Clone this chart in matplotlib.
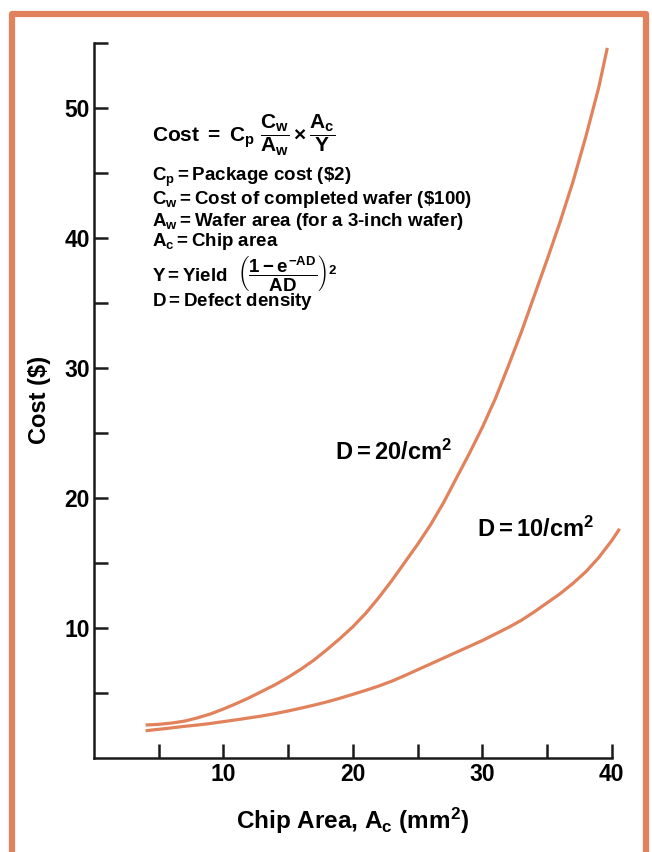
import matplotlib
matplotlib.use("Agg")
import matplotlib.pyplot as plt
from matplotlib.lines import Line2D

plt.rcParams["font.family"] = ["Liberation Sans", "DejaVu Sans"]
plt.rcParams["font.weight"] = "bold"
plt.rcParams["mathtext.fontset"] = "custom"
plt.rcParams["mathtext.rm"] = "Liberation Sans:bold"
plt.rcParams["mathtext.it"] = "Liberation Sans:bold"
plt.rcParams["mathtext.bf"] = "Liberation Sans:bold"
plt.rcParams["mathtext.sf"] = "Liberation Sans:bold"

# chip area (mm^2) and cost ($)
area_d20 = [4, 5, 6, 7, 8, 9, 10, 11, 12, 13, 14, 15, 16, 17, 18, 19, 20,
            21, 22, 23, 24, 25, 26, 27, 28, 29, 30, 31, 32, 33, 34, 35,
            36, 37, 38, 39, 39.65]
cost_d20 = [2.5, 2.55, 2.65, 2.8, 3.05, 3.35, 3.73, 4.15, 4.6, 5.1, 5.6, 6.17, 6.8, 7.5, 8.3, 9.15, 10.06,
            11.1, 12.3, 13.6, 15.0, 16.4, 17.9, 19.6, 21.5, 23.4, 25.4, 27.6, 30.1, 32.7, 35.5, 38.3,
            41.2, 44.3, 47.8, 51.6, 54.6]

area_d10 = [4, 5, 6, 7, 8, 9, 10, 11, 12, 13, 14, 15, 16, 17, 18, 19, 20,
            21, 22, 23, 24, 25, 26, 27, 28, 29, 30, 31, 32, 33, 34, 35,
            36, 37, 38, 39, 40, 40.6]
cost_d10 = [2.06, 2.17, 2.28, 2.4, 2.5, 2.62, 2.76, 2.9, 3.05, 3.2, 3.38, 3.58, 3.8, 4.03, 4.28, 4.56, 4.86,
            5.17, 5.5, 5.87, 6.3, 6.75, 7.2, 7.65, 8.1, 8.55, 9.0, 9.5, 10.0, 10.55, 11.2, 11.9,
            12.6, 13.4, 14.3, 15.4, 16.7, 17.6]

x_major = [10, 20, 30, 40]
x_minor = [5, 15, 25, 35]
y_major = [10, 20, 30, 40, 50]
y_minor = [5, 15, 25, 35, 45, 55]

orange = "#e2825c"

fig = plt.figure(figsize=(6.52, 8.52), dpi=100)
ax = fig.add_axes([0.1439, 0.1109, 0.7945, 0.839])

ax.plot(area_d20, cost_d20, color=orange, lw=2.3, clip_on=False, solid_capstyle="butt")
ax.plot(area_d10, cost_d10, color=orange, lw=2.3, clip_on=False, solid_capstyle="butt")

ax.set_xlim(0, 40)
ax.set_ylim(0, 55)
for s in ["top", "right"]:
    ax.spines[s].set_visible(False)
for s in ["left", "bottom"]:
    ax.spines[s].set_linewidth(1.8)
    ax.spines[s].set_color("#1a1a1a")

ax.set_xticks(x_major)
ax.set_xticks(x_minor, minor=True)
ax.set_yticks(y_major)
ax.set_yticks(y_minor, minor=True)
ax.tick_params(which="both", direction="in", length=10, width=1.8, color="#1a1a1a")
ax.tick_params(axis="both", labelsize=16.5, pad=3)
ax.tick_params(axis="x", pad=4)
for t in ax.get_xticklabels() + ax.get_yticklabels():
    t.set_fontweight("bold")

ax.set_xlabel(r"Chip Area, A$_\mathrm{c}$ (mm$^\mathrm{2}$)", fontsize=17.5, fontweight="bold")
ax.xaxis.set_label_coords(0.5, -0.068)
ax.set_ylabel("Cost ($)", fontsize=17, fontweight="bold")
ax.yaxis.set_label_coords(-0.083, 0.5)

ax.text(18.6, 22.9, r"D$=$20/cm$^\mathrm{2}$", fontsize=17, fontweight="bold", va="baseline")
ax.text(29.6, 16.96, r"D$=$10/cm$^\mathrm{2}$", fontsize=17, fontweight="bold", va="baseline")

fx, fs = 152 / 652, 13.5
fig.text(fx, 1 - 135 / 852, r"Cost $=$ C$_\mathrm{p}$ $\dfrac{C_w}{A_w}\times\dfrac{A_c}{Y}$",
         fontsize=15, va="center")
lines = [
    (177, r"C$_\mathrm{p}$$=$Package cost (\$2)"),
    (199, r"C$_\mathrm{w}$$=$Cost of completed wafer (\$100)"),
    (221, r"A$_\mathrm{w}$$=$Wafer area (for a 3-inch wafer)"),
    (242, r"A$_\mathrm{c}$$=$Chip area"),
    (273, r"Y$=$Yield  $\left(\dfrac{1-e^{-AD}}{AD}\right)^2$"),
    (302, r"D$=$Defect density"),
]
for ypix, txt in lines:
    fig.text(fx, 1 - ypix / 852, txt, fontsize=fs, va="center")

# orange frame around the page
bx0, bx1, by1 = 12 / 652, 646 / 652, 1 - 14 / 852
fig.add_artist(Line2D([bx0, bx0, bx1, bx1], [-0.01, by1, by1, -0.01],
                      transform=fig.transFigure, color=orange, lw=4.5))

fig.savefig("out.png", dpi=100)
